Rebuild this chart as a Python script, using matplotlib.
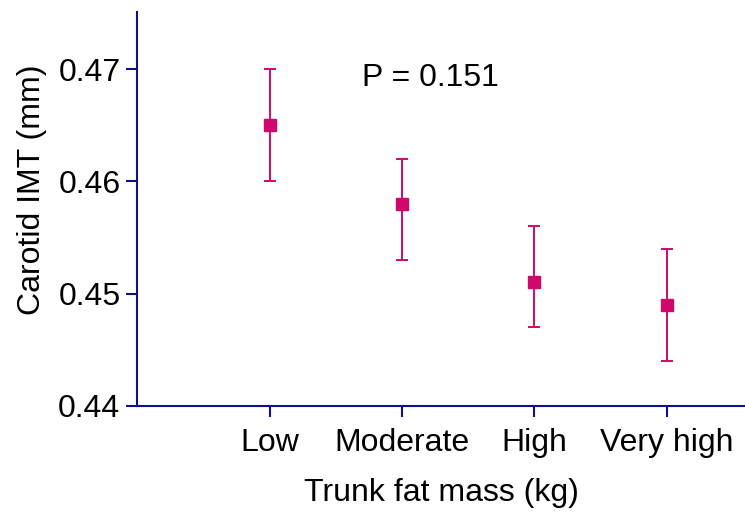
import matplotlib.pyplot as plt

plt.rcParams['font.family'] = ['Liberation Sans', 'DejaVu Sans']

categories = ['Low', 'Moderate', 'High', 'Very high']
means = [0.465, 0.458, 0.451, 0.449]
lower = [0.460, 0.453, 0.447, 0.444]
upper = [0.470, 0.462, 0.456, 0.454]

navy = '#10108a'
pink = '#d0086c'

fig = plt.figure(figsize=(7.45, 5.21), dpi=100)
ax = fig.add_axes([0.184, 0.221, 0.816, 0.756])

xs = list(range(1, len(categories) + 1))
yerr = [[m - lo for m, lo in zip(means, lower)], [hi - m for m, hi in zip(means, upper)]]
ax.errorbar(xs, means, yerr=yerr, fmt='s', color=pink, ecolor=pink,
            markersize=9, elinewidth=1.4, capsize=4, capthick=1.4)

ax.set_xlim(0, 4.59)
ax.set_ylim(0.44, 0.4751)
ax.set_yticks([0.44, 0.45, 0.46, 0.47])
ax.set_yticklabels(['0.44', '0.45', '0.46', '0.47'])
ax.set_xticks(xs)
ax.set_xticklabels(categories)

for s in ['top', 'right']:
    ax.spines[s].set_visible(False)
for s in ['left', 'bottom']:
    ax.spines[s].set_color(navy)
    ax.spines[s].set_linewidth(1.5)
ax.tick_params(axis='both', colors=navy, labelcolor='black',
               length=8, width=1.5, direction='out')
ax.tick_params(axis='x', labelsize=23, pad=8)
ax.tick_params(axis='y', labelsize=23, pad=4)

ax.set_ylabel('Carotid IMT (mm)', fontsize=23)
ax.yaxis.set_label_coords(-0.148, 0.548)
ax.set_xlabel('Trunk fat mass (kg)', fontsize=23, labelpad=14)

ax.text(1.70, 0.4692, 'P = 0.151', fontsize=23, va='center', ha='left')

fig.savefig('out.png', dpi=100)
